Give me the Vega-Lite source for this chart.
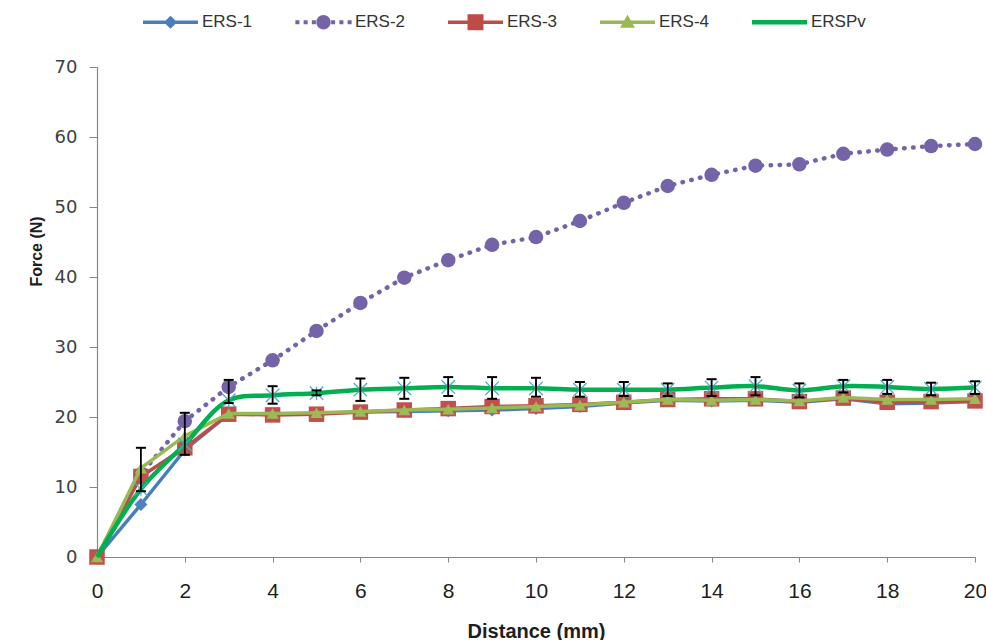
{
  "$schema": "https://vega.github.io/schema/vega-lite/v6.json",
  "width": 878,
  "height": 490,
  "autosize": "none",
  "padding": {"left": 97, "top": 67, "right": 11, "bottom": 83},
  "background": "white",
  "config": {"view": {"stroke": null}, "axis": {"grid": false}},
  "datasets": {
    "d": [
      {"s": "ERS-1", "x": 0, "f": 0}, {"s": "ERS-1", "x": 1, "f": 7.5}, {"s": "ERS-1", "x": 2, "f": 15.3}, {"s": "ERS-1", "x": 3, "f": 20.4}, {"s": "ERS-1", "x": 4, "f": 20.4}, {"s": "ERS-1", "x": 5, "f": 20.5}, {"s": "ERS-1", "x": 6, "f": 20.7}, {"s": "ERS-1", "x": 7, "f": 20.8}, {"s": "ERS-1", "x": 8, "f": 20.9}, {"s": "ERS-1", "x": 9, "f": 21.0}, {"s": "ERS-1", "x": 10, "f": 21.2}, {"s": "ERS-1", "x": 11, "f": 21.5}, {"s": "ERS-1", "x": 12, "f": 22.0}, {"s": "ERS-1", "x": 13, "f": 22.4}, {"s": "ERS-1", "x": 14, "f": 22.3}, {"s": "ERS-1", "x": 15, "f": 22.4}, {"s": "ERS-1", "x": 16, "f": 22.1}, {"s": "ERS-1", "x": 17, "f": 22.6}, {"s": "ERS-1", "x": 18, "f": 21.9}, {"s": "ERS-1", "x": 19, "f": 22.0}, {"s": "ERS-1", "x": 20, "f": 22.2},
      {"s": "ERS-2", "x": 0, "f": 0}, {"s": "ERS-2", "x": 1, "f": 11.8}, {"s": "ERS-2", "x": 2, "f": 19.4}, {"s": "ERS-2", "x": 3, "f": 24.3}, {"s": "ERS-2", "x": 4, "f": 28.1}, {"s": "ERS-2", "x": 5, "f": 32.3}, {"s": "ERS-2", "x": 6, "f": 36.3}, {"s": "ERS-2", "x": 7, "f": 39.9}, {"s": "ERS-2", "x": 8, "f": 42.4}, {"s": "ERS-2", "x": 9, "f": 44.6}, {"s": "ERS-2", "x": 10, "f": 45.7}, {"s": "ERS-2", "x": 11, "f": 48.0}, {"s": "ERS-2", "x": 12, "f": 50.6}, {"s": "ERS-2", "x": 13, "f": 53.0}, {"s": "ERS-2", "x": 14, "f": 54.6}, {"s": "ERS-2", "x": 15, "f": 55.9}, {"s": "ERS-2", "x": 16, "f": 56.1}, {"s": "ERS-2", "x": 17, "f": 57.6}, {"s": "ERS-2", "x": 18, "f": 58.2}, {"s": "ERS-2", "x": 19, "f": 58.7}, {"s": "ERS-2", "x": 20, "f": 59.0},
      {"s": "ERS-3", "x": 0, "f": 0}, {"s": "ERS-3", "x": 1, "f": 11.5}, {"s": "ERS-3", "x": 2, "f": 15.6}, {"s": "ERS-3", "x": 3, "f": 20.4}, {"s": "ERS-3", "x": 4, "f": 20.3}, {"s": "ERS-3", "x": 5, "f": 20.4}, {"s": "ERS-3", "x": 6, "f": 20.7}, {"s": "ERS-3", "x": 7, "f": 21.0}, {"s": "ERS-3", "x": 8, "f": 21.2}, {"s": "ERS-3", "x": 9, "f": 21.5}, {"s": "ERS-3", "x": 10, "f": 21.6}, {"s": "ERS-3", "x": 11, "f": 21.8}, {"s": "ERS-3", "x": 12, "f": 22.1}, {"s": "ERS-3", "x": 13, "f": 22.5}, {"s": "ERS-3", "x": 14, "f": 22.6}, {"s": "ERS-3", "x": 15, "f": 22.6}, {"s": "ERS-3", "x": 16, "f": 22.2}, {"s": "ERS-3", "x": 17, "f": 22.7}, {"s": "ERS-3", "x": 18, "f": 22.1}, {"s": "ERS-3", "x": 19, "f": 22.2}, {"s": "ERS-3", "x": 20, "f": 22.3},
      {"s": "ERS-4", "x": 0, "f": 0}, {"s": "ERS-4", "x": 1, "f": 12.7}, {"s": "ERS-4", "x": 2, "f": 17.3}, {"s": "ERS-4", "x": 3, "f": 20.5}, {"s": "ERS-4", "x": 4, "f": 20.5}, {"s": "ERS-4", "x": 5, "f": 20.6}, {"s": "ERS-4", "x": 6, "f": 20.8}, {"s": "ERS-4", "x": 7, "f": 21.0}, {"s": "ERS-4", "x": 8, "f": 21.1}, {"s": "ERS-4", "x": 9, "f": 21.3}, {"s": "ERS-4", "x": 10, "f": 21.5}, {"s": "ERS-4", "x": 11, "f": 21.7}, {"s": "ERS-4", "x": 12, "f": 22.1}, {"s": "ERS-4", "x": 13, "f": 22.5}, {"s": "ERS-4", "x": 14, "f": 22.4}, {"s": "ERS-4", "x": 15, "f": 22.5}, {"s": "ERS-4", "x": 16, "f": 22.3}, {"s": "ERS-4", "x": 17, "f": 22.8}, {"s": "ERS-4", "x": 18, "f": 22.5}, {"s": "ERS-4", "x": 19, "f": 22.5}, {"s": "ERS-4", "x": 20, "f": 22.6},
      {"s": "ERSPv", "x": 0, "f": 0, "lo": 0, "hi": 0}, {"s": "ERSPv", "x": 1, "f": 9.7, "lo": 9.4, "hi": 15.6}, {"s": "ERSPv", "x": 2, "f": 16.1, "lo": 14.6, "hi": 20.6}, {"s": "ERSPv", "x": 3, "f": 22.4, "lo": 22.0, "hi": 25.3}, {"s": "ERSPv", "x": 4, "f": 23.1, "lo": 21.9, "hi": 24.4}, {"s": "ERSPv", "x": 5, "f": 23.4, "lo": 23.1, "hi": 23.8}, {"s": "ERSPv", "x": 6, "f": 23.9, "lo": 22.3, "hi": 25.5}, {"s": "ERSPv", "x": 7, "f": 24.1, "lo": 22.6, "hi": 25.6}, {"s": "ERSPv", "x": 8, "f": 24.3, "lo": 23.0, "hi": 25.7}, {"s": "ERSPv", "x": 9, "f": 24.1, "lo": 22.6, "hi": 25.7}, {"s": "ERSPv", "x": 10, "f": 24.1, "lo": 22.9, "hi": 25.6}, {"s": "ERSPv", "x": 11, "f": 23.9, "lo": 22.9, "hi": 25.0}, {"s": "ERSPv", "x": 12, "f": 23.9, "lo": 23.0, "hi": 25.0}, {"s": "ERSPv", "x": 13, "f": 23.9, "lo": 23.0, "hi": 24.8}, {"s": "ERSPv", "x": 14, "f": 24.2, "lo": 23.0, "hi": 25.4}, {"s": "ERSPv", "x": 15, "f": 24.4, "lo": 23.1, "hi": 25.7}, {"s": "ERSPv", "x": 16, "f": 23.8, "lo": 22.8, "hi": 24.8}, {"s": "ERSPv", "x": 17, "f": 24.4, "lo": 23.5, "hi": 25.3}, {"s": "ERSPv", "x": 18, "f": 24.3, "lo": 23.3, "hi": 25.3}, {"s": "ERSPv", "x": 19, "f": 24.0, "lo": 23.1, "hi": 24.9}, {"s": "ERSPv", "x": 20, "f": 24.2, "lo": 23.3, "hi": 25.1}
    ]
  },
  "data": {"name": "d"},
  "encoding": {
    "x": {
      "field": "x", "type": "quantitative",
      "scale": {"domain": [0, 20], "nice": false},
      "axis": {
        "values": [0, 2, 4, 6, 8, 10, 12, 14, 16, 18, 20],
        "title": "Distance (mm)",
        "labelFlush": false,
        "labelFont": "Liberation Sans", "labelFontSize": 21, "labelColor": "#1e1e1e", "labelPadding": 18,
        "tickSize": 5, "tickColor": "#868686", "domainColor": "#868686", "domainWidth": 1.2,
        "titleFont": "Liberation Sans", "titleFontSize": 20, "titleFontWeight": "bold", "titleColor": "#1e1e1e",
        "titleBaseline": "alphabetic", "titleY": 80
      }
    },
    "y": {
      "field": "f", "type": "quantitative",
      "scale": {"domain": [0, 70], "nice": false},
      "axis": {
        "values": [0, 10, 20, 30, 40, 50, 60, 70],
        "title": "Force (N)",
        "labelFont": "DejaVu Sans", "labelFontSize": 18, "labelColor": "#404040", "labelPadding": 12,
        "tickSize": 8, "tickColor": "#868686", "domainColor": "#868686", "domainWidth": 1.2,
        "titleFont": "Liberation Sans", "titleFontSize": 16, "titleFontWeight": "bold", "titleColor": "#1e1e1e",
        "titleX": -61, "titleY": 184, "titleBaseline": "middle", "titleAlign": "center"
      }
    }
  },
  "layer": [
    {
      "transform": [{"filter": "datum.s === 'ERS-1'"}],
      "mark": {"type": "line", "strokeWidth": 3.5},
      "encoding": {
        "color": {
          "field": "s", "type": "nominal",
          "scale": {"domain": ["ERS-1", "ERS-2", "ERS-3", "ERS-4", "ERSPv"], "range": ["#4A7EBB", "#7563A8", "#BE4B48", "#98B954", "#00B050"]},
          "legend": {
            "orient": "none", "legendX": 46, "legendY": -72.5, "direction": "horizontal", "columns": 5,
            "columnPadding": 42, "symbolSize": 3025, "labelOffset": 4, "padding": 0, "title": null,
            "labelFont": "Liberation Sans", "labelFontSize": 17, "labelColor": "#333333",
            "encode": {
              "symbols": {
                "update": {
                  "shape": {"signal": "datum.value === 'ERS-1' ? 'M-1,-0.064H1V0.064H-1ZM0,-0.24L0.24,0L0,0.24L-0.24,0Z' : datum.value === 'ERS-2' ? 'M-1.023,-0.073h0.146v0.146h-0.146ZM-0.723,-0.073h0.146v0.146h-0.146ZM-0.423,-0.073h0.146v0.146h-0.146ZM0.277,-0.073h0.146v0.146h-0.146ZM0.577,-0.073h0.146v0.146h-0.146ZM0.877,-0.073h0.146v0.146h-0.146ZM-0.26,0A0.26,0.26,0,1,1,0.26,0A0.26,0.26,0,1,1,-0.26,0Z' : datum.value === 'ERS-3' ? 'M-1,-0.064H1V0.064H-1ZM-0.29,-0.29H0.29V0.29H-0.29Z' : datum.value === 'ERS-4' ? 'M-1,-0.064H1V0.064H-1ZM0,-0.27L0.27,0.2L-0.27,0.2Z' : 'M-1,-0.08H1V0.08H-1Z'"},
                  "fill": {"signal": "datum.value === 'ERS-1' ? '#4A7EBB' : datum.value === 'ERS-2' ? '#7563A8' : datum.value === 'ERS-3' ? '#BE4B48' : datum.value === 'ERS-4' ? '#98B954' : '#00B050'"},
                  "stroke": {"value": "transparent"},
                  "strokeWidth": {"value": 0},
                  "opacity": {"value": 1},
                  "fillOpacity": {"value": 1}
                }
              }
            }
          }
        }
      }
    },
    {
      "transform": [{"filter": "datum.s === 'ERS-1'"}],
      "mark": {"type": "point", "shape": "diamond", "filled": true, "size": 170, "color": "#4F81BD", "opacity": 1}
    },
    {
      "transform": [{"filter": "datum.s === 'ERS-2'"}],
      "mark": {"type": "line", "strokeWidth": 4.5, "strokeDash": [0.5, 8.5], "strokeCap": "round"},
      "encoding": {"color": {"field": "s", "type": "nominal"}}
    },
    {
      "transform": [{"filter": "datum.s === 'ERS-2'"}],
      "mark": {"type": "point", "shape": "circle", "filled": true, "size": 210, "color": "#7563A8", "opacity": 1}
    },
    {
      "transform": [{"filter": "datum.s === 'ERS-3'"}],
      "mark": {"type": "line", "strokeWidth": 3.5},
      "encoding": {"color": {"field": "s", "type": "nominal"}}
    },
    {
      "transform": [{"filter": "datum.s === 'ERS-3'"}],
      "mark": {"type": "point", "shape": "square", "filled": true, "size": 240, "color": "#C0504D", "opacity": 1}
    },
    {
      "transform": [{"filter": "datum.s === 'ERS-4'"}],
      "mark": {"type": "line", "strokeWidth": 3.5},
      "encoding": {"color": {"field": "s", "type": "nominal"}}
    },
    {
      "transform": [{"filter": "datum.s === 'ERS-4'"}],
      "mark": {"type": "point", "shape": "triangle-up", "filled": true, "size": 150, "color": "#9BBB59", "opacity": 1}
    },
    {
      "transform": [{"filter": "datum.s === 'ERSPv'"}],
      "mark": {"type": "line", "strokeWidth": 4.5, "interpolate": "catmull-rom"},
      "encoding": {"color": {"field": "s", "type": "nominal"}}
    },
    {
      "transform": [{"filter": "datum.s === 'ERSPv' && datum.x > 0"}],
      "mark": {"type": "point", "shape": "M-1,-1L1,1M-1,1L1,-1M0,-1L0,1", "filled": false, "size": 180, "color": "#4BACC6", "strokeWidth": 1.3, "opacity": 1}
    },
    {
      "transform": [{"filter": "datum.s === 'ERSPv' && datum.x > 0"}],
      "mark": {"type": "rule", "color": "#000000", "strokeWidth": 1.8},
      "encoding": {"y": {"field": "lo", "type": "quantitative"}, "y2": {"field": "hi"}}
    },
    {
      "transform": [{"filter": "datum.s === 'ERSPv' && datum.x > 0"}],
      "mark": {"type": "tick", "orient": "horizontal", "size": 10, "thickness": 2, "color": "#000000", "opacity": 1},
      "encoding": {"y": {"field": "lo", "type": "quantitative"}}
    },
    {
      "transform": [{"filter": "datum.s === 'ERSPv' && datum.x > 0"}],
      "mark": {"type": "tick", "orient": "horizontal", "size": 10, "thickness": 2, "color": "#000000", "opacity": 1},
      "encoding": {"y": {"field": "hi", "type": "quantitative"}}
    }
  ]
}
